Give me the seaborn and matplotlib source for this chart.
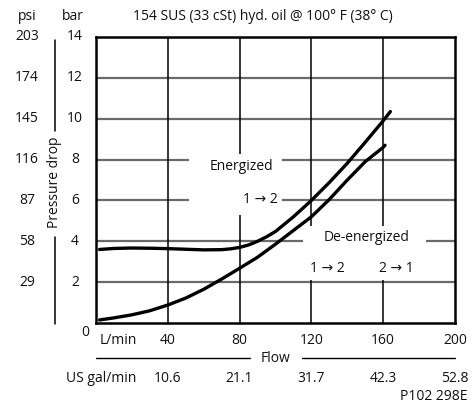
import matplotlib
matplotlib.use("Agg")
import matplotlib.pyplot as plt
import matplotlib.patches as mpatches
from matplotlib.transforms import blended_transform_factory
import seaborn as sns
import pandas as pd

# ---- data ----
energized_flow = [2, 10, 20, 30, 40, 50, 60, 70, 75, 80, 85, 90, 95, 100, 110, 120, 130, 140, 150, 160, 164]
energized_dp = [3.6, 3.65, 3.67, 3.66, 3.64, 3.61, 3.58, 3.59, 3.63, 3.7, 3.82, 4.0, 4.22, 4.48, 5.2, 6.0, 6.88, 7.82, 8.85, 9.9, 10.35]
deenergized_flow = [2, 10, 20, 30, 40, 50, 60, 70, 80, 90, 100, 110, 120, 130, 140, 150, 160, 161]
deenergized_dp = [0.15, 0.25, 0.4, 0.6, 0.88, 1.22, 1.65, 2.15, 2.68, 3.22, 3.86, 4.53, 5.2, 6.05, 7.0, 7.9, 8.6, 8.7]

x_ticks = [40, 80, 120, 160, 200]
gal_labels = ["10.6", "21.1", "31.7", "42.3", "52.8"]
bar_ticks = [2, 4, 6, 8, 10, 12, 14]
psi_labels = ["29", "58", "87", "116", "145", "174", "203"]

df = pd.concat([
    pd.DataFrame({"flow": energized_flow, "dp": energized_dp, "curve": "Energized"}),
    pd.DataFrame({"flow": deenergized_flow, "dp": deenergized_dp, "curve": "De-energized"}),
])

sns.set_theme(style="white")
plt.rcParams['font.family'] = ['Open Sans', 'DejaVu Sans']

W, H = 472, 403
fig = plt.figure(figsize=(W / 100, H / 100), dpi=100)
ax = fig.add_axes([96 / W, 1 - 323 / H, (455 - 96) / W, (323 - 37) / H])

ax.set_xlim(0, 200)
ax.set_ylim(0, 14)

# grid
for yv in bar_ticks[:-1]:
    ax.axhline(yv, color="#6a6a6a", lw=1.6, zorder=1)
for xv in x_ticks[:-1]:
    ax.axvline(xv, color="black", lw=1.1, zorder=1)

# white label boxes interrupting the grid
ax.add_patch(mpatches.Rectangle((51.6, 5.3), 51.8, 2.95, facecolor="white", edgecolor="none", zorder=2))
ax.add_patch(mpatches.Rectangle((115.5, 2.1), 68.3, 2.65, facecolor="white", edgecolor="none", zorder=2))

sns.lineplot(data=df, x="flow", y="dp", units="curve", estimator=None, color="black",
             lw=2.4, ax=ax, legend=False, zorder=3, sort=False)

for s in ax.spines.values():
    s.set_color("black")
    s.set_linewidth(1.8)
    s.set_visible(True)

ax.set_xticks([])
ax.set_yticks([])
ax.set_xlabel("")
ax.set_ylabel("")

fs = 10
tc = "#111111"

# inner annotations
ax.text(81, 7.65, "Energized", ha="center", va="center", fontsize=fs, color=tc, zorder=4)
ax.text(91.5, 6.05, "1 \u2192 2", ha="center", va="center", fontsize=fs, color=tc, zorder=4)
ax.text(150.5, 4.2, "De-energized", ha="center", va="center", fontsize=fs, color=tc, zorder=4)
ax.text(129, 2.65, "1 \u2192 2", ha="center", va="center", fontsize=fs, color=tc, zorder=4)
ax.text(167.5, 2.65, "2 \u2192 1", ha="center", va="center", fontsize=fs, color=tc, zorder=4)

# left y labels
trans_y = blended_transform_factory(fig.transFigure, ax.transData)
for b, p in zip(bar_ticks, psi_labels):
    ax.text(75 / W, b, str(b), transform=trans_y, ha="center", va="center", fontsize=fs, color=tc, clip_on=False)
    ax.text(27 / W, b, p, transform=trans_y, ha="center", va="center", fontsize=fs, color=tc, clip_on=False)
fig.text(85 / W, 1 - 333 / H, "0", ha="center", va="center", fontsize=fs, color=tc)
fig.text(27.5 / W, 1 - 17 / H, "psi", ha="center", va="center", fontsize=fs, color=tc)
fig.text(73 / W, 1 - 17 / H, "bar", ha="center", va="center", fontsize=fs, color=tc)
fig.text(263 / W, 1 - 17 / H, "154 SUS (33 cSt) hyd. oil @ 100\u00b0 F (38\u00b0 C)",
         ha="center", va="center", fontsize=fs, color=tc)

# pressure drop label with vertical line
fig.text(54 / W, 1 - 182.5 / H, "Pressure drop", rotation=90, ha="center", va="center", fontsize=fs, color=tc)
fig.add_artist(plt.Line2D([54.5 / W, 54.5 / W], [1 - 40 / H, 1 - 131 / H], color="black", lw=1.1))
fig.add_artist(plt.Line2D([54.5 / W, 54.5 / W], [1 - 237 / H, 1 - 324 / H], color="black", lw=1.1))

# x labels
trans_x = blended_transform_factory(ax.transData, fig.transFigure)
for xv in x_ticks:
    ax.text(xv, 1 - 341 / H, str(xv), transform=trans_x, ha="center", va="center", fontsize=fs, color=tc, clip_on=False)
for xv, g in zip(x_ticks, gal_labels):
    ax.text(xv, 1 - 378 / H, g, transform=trans_x, ha="center", va="center", fontsize=fs, color=tc, clip_on=False)
fig.text(118 / W, 1 - 341 / H, "L/min", ha="center", va="center", fontsize=fs, color=tc)
fig.text(101 / W, 1 - 378 / H, "US gal/min", ha="center", va="center", fontsize=fs, color=tc)
fig.text(275 / W, 1 - 359 / H, "Flow", ha="center", va="center", fontsize=fs, color=tc)
fig.add_artist(plt.Line2D([96 / W, 250 / W], [1 - 358 / H, 1 - 358 / H], color="black", lw=1.0))
fig.add_artist(plt.Line2D([302 / W, 455 / W], [1 - 358 / H, 1 - 358 / H], color="black", lw=1.0))
fig.text(467 / W, 1 - 396 / H, "P102 298E", ha="right", va="center", fontsize=fs, color=tc)

fig.savefig("out.png", dpi=100, facecolor="white")
